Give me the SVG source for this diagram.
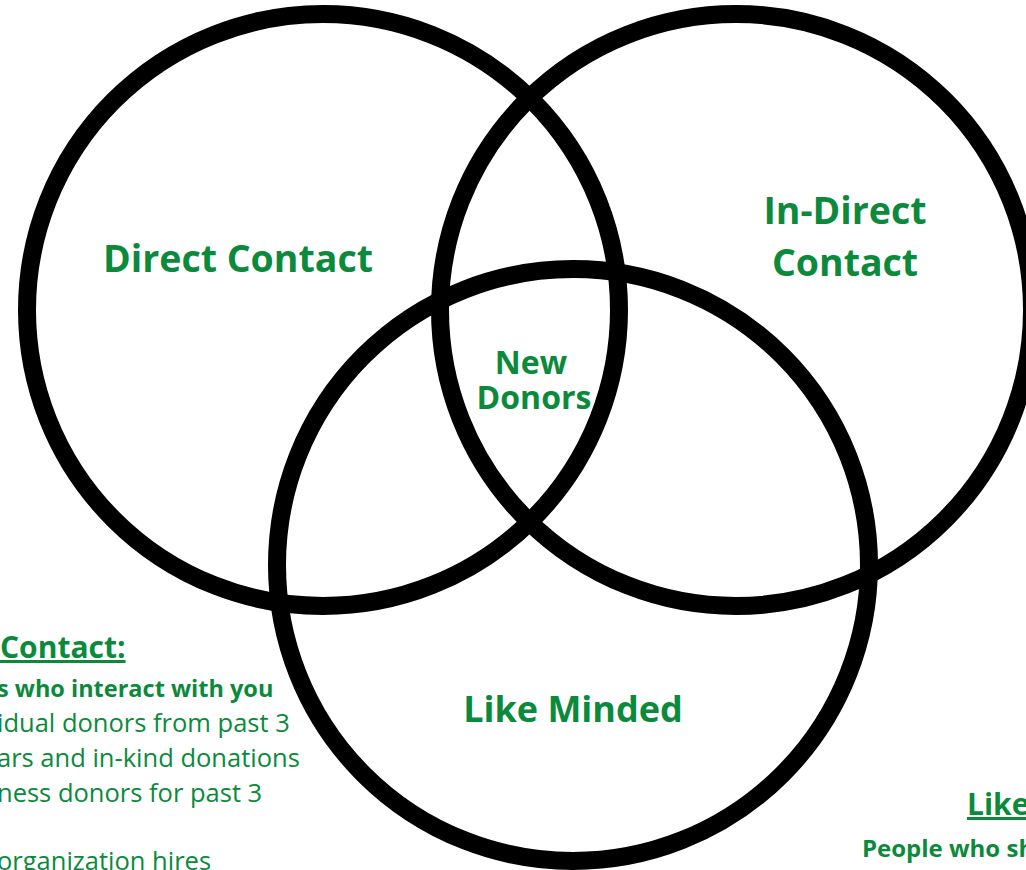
<svg xmlns="http://www.w3.org/2000/svg" width="1026" height="870" viewBox="0 0 1026 870">
<style>
.c{fill:none;stroke:#000;stroke-width:18}
.t{font-family:"Open Sans","Liberation Sans",sans-serif;fill:#0b8a3c;font-weight:700}
.b{font-family:"Open Sans","Liberation Sans",sans-serif;fill:#0b8a3c;font-weight:400}
</style>
<rect width="1026" height="870" fill="#fff"/>
<g id="connectors"/>
<g id="direct-contact">
<circle class="c" cx="323" cy="310" r="296"/>
<text class="t" x="238" y="272" font-size="37.5" text-anchor="middle">Direct Contact</text>
</g>
<g id="indirect-contact">
<circle class="c" cx="736" cy="310" r="296"/>
<text class="t" x="845" y="224" font-size="37.5" text-anchor="middle">In-Direct</text>
<text class="t" x="845" y="276" font-size="37.5" text-anchor="middle">Contact</text>
</g>
<g id="like-minded">
<circle class="c" cx="573" cy="565" r="296"/>
<text class="t" x="573" y="722" font-size="36" text-anchor="middle">Like Minded</text>
</g>
<g id="new-donors">
<text class="t" x="531" y="374" font-size="32" text-anchor="middle">New</text>
<text class="t" x="534" y="409" font-size="32" text-anchor="middle">Donors</text>
</g>
<g id="direct-notes">
<text class="t" x="0" y="658" font-size="30" text-decoration="underline">Contact: </text>
<text class="t" x="-3" y="697" font-size="23.5">s who interact with you</text>
<text class="b" x="-3" y="732" font-size="25.5">idual donors from past 3</text>
<text class="b" x="-3" y="767" font-size="25.5">ars and in-kind donations</text>
<text class="b" x="-3" y="802" font-size="25.5">ness donors for past 3</text>
<text class="b" x="-3" y="870" font-size="25.5">organization hires</text>
</g>
<g id="like-notes">
<text class="t" x="967" y="815" font-size="30" text-decoration="underline">Like</text>
<text class="t" x="862" y="857" font-size="24">People who sh</text>
</g>
</svg>
